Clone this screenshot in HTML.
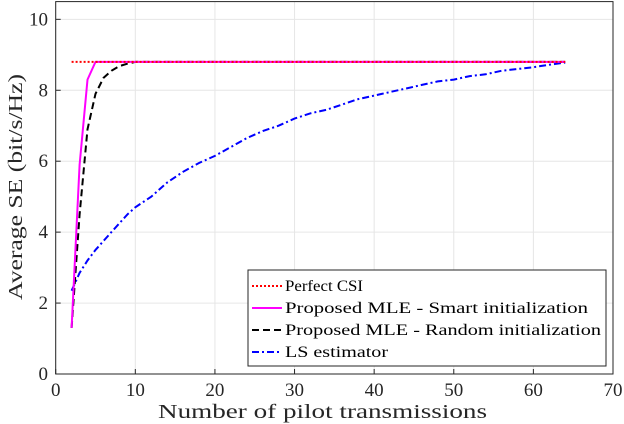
<!DOCTYPE html>
<html><head><meta charset="utf-8"><style>
html,body{margin:0;padding:0;background:#fff;}
svg{display:block;font-family:"Liberation Serif",serif;}
</style></head><body>
<svg id="chart" width="624" height="424">
<g id="grid"></g>
<g id="series"></g>
<rect x="55.7" y="1.6" width="557.3" height="372.4" fill="none" stroke="#262626" stroke-width="1"/>
<g id="ticks"></g>
<text x="158" y="418" font-size="20" fill="#262626" textLength="329" lengthAdjust="spacingAndGlyphs">Number of pilot transmissions</text>
<text transform="translate(22,300) rotate(-90)" font-size="20" fill="#262626" textLength="226" lengthAdjust="spacingAndGlyphs">Average SE (bit/s/Hz)</text>
<g id="legend">
<rect x="248" y="270" width="358" height="96" fill="#fff" stroke="#262626" stroke-width="1"/>
</g>
</svg>
<script>
const xTicks=[0,10,20,30,40,50,60,70];
const yTicks=[0,2,4,6,8,10];
const seriesNames=["Perfect CSI","Proposed MLE - Smart initialization","Proposed MLE - Random initialization","LS estimator"];
const legendLens=[78,303,316,103];
const perfX=[2,64];
const perfY=[8.8,8.8];
const smartX=[2,3,4,5,10,20,30,40,50,64];
const smartY=[1.3,5.9,8.3,8.8,8.8,8.8,8.8,8.8,8.8,8.8];
const randX=[2,3,4,5,6,7,8,9,10,20,40,64];
const randY=[1.3,4.5,6.9,7.9,8.35,8.55,8.68,8.75,8.8,8.8,8.8,8.8];
const lsX=[2,3,4,5,6,7,8,9,10,12,14,16,18,20,22,24,26,28,30,32,34,36,38,40,42,44,46,48,50,52,54,56,58,60,62,64];
const lsY=[2.35,2.85,3.2,3.5,3.75,4.0,4.25,4.5,4.7,5.0,5.4,5.7,5.95,6.15,6.4,6.65,6.85,7.0,7.2,7.35,7.45,7.6,7.75,7.85,7.95,8.05,8.15,8.25,8.3,8.4,8.45,8.55,8.6,8.65,8.72,8.78];
const NS="http://www.w3.org/2000/svg";
const X0=55.7,X1=613,Y0=374,Y1=1.6;
const sx=v=>X0+(v-0)/(70-0)*(X1-X0);
const sy=v=>Y0-(v-0)/(10.5-0)*(Y0-Y1);
function mk(tag,attrs,parent){const e=document.createElementNS(NS,tag);for(const k in attrs)e.setAttribute(k,attrs[k]);document.getElementById(parent).appendChild(e);return e;}
xTicks.forEach(t=>{
 const g=mk('line',{x1:sx(t),x2:sx(t),y1:Y0,y2:Y1,stroke:'#e6e6e6','stroke-width':1},'grid');
 
 
 const tk=mk('line',{x1:sx(t),x2:sx(t),y1:Y0,y2:Y0-5,stroke:'#262626'},'ticks');
 
 
 const tx=mk('text',{x:sx(t),y:396,'text-anchor':'middle','font-size':19,fill:'#262626'},'ticks');
 tx.textContent=t;
 
 
});
yTicks.forEach(t=>{
 const g=mk('line',{x1:X0,x2:X1,y1:sy(t),y2:sy(t),stroke:'#e6e6e6','stroke-width':1},'grid');
 
 
 const tk=mk('line',{x1:X0,x2:X0+5,y1:sy(t),y2:sy(t),stroke:'#262626'},'ticks');
 
 
 const tx=mk('text',{x:48,y:sy(t)+6,'text-anchor':'end','font-size':19,fill:'#262626'},'ticks');
 tx.textContent=t;
 
 
});
const styles=[
 {stroke:'#ff0000',dash:'2,2',w:2},
 {stroke:'#ff00ff',dash:'',w:2},
 {stroke:'#000000',dash:'7,4',w:2},
 {stroke:'#0000ff',dash:'7,3,2,3',w:2}];
const data=[[perfX,perfY],[smartX,smartY],[randX,randY],[lsX,lsY]];
const order=[3,2,1,0];
order.forEach(i=>{
 const [xs,ys]=data[i];
 const pts=xs.map((x,j)=>sx(x).toFixed(1)+','+sy(ys[j]).toFixed(1)).join(' ');
 const p=mk('polyline',{points:pts,fill:'none',stroke:styles[i].stroke,'stroke-width':styles[i].w,'stroke-dasharray':styles[i].dash},'series');
 
 
});
seriesNames.forEach((n,i)=>{
 const y=286+i*22;
 const l=mk('line',{x1:252,x2:282,y1:y,y2:y,stroke:styles[i].stroke,'stroke-width':2,'stroke-dasharray':styles[i].dash},'legend');
 
 
 const t=mk('text',{x:285,y:y+5,'font-size':16,fill:'#000',textLength:legendLens[i],lengthAdjust:'spacingAndGlyphs'},'legend');
 t.textContent=n;
 
 
});
</script>
</body></html>
